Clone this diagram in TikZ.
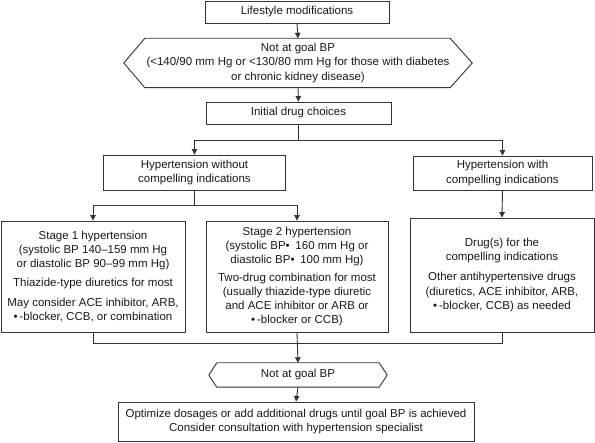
\documentclass[tikz,border=0pt]{standalone}
\usepackage{fontspec}
\setmainfont{Liberation Sans}
\usetikzlibrary{arrows.meta}
\definecolor{linec}{gray}{0.2}
\newcommand{\fsz}{\fontsize{11.5}{14.1}\selectfont}
\begin{document}
\begin{tikzpicture}[x=1pt,y=-1pt]
\tikzset{
  boxst/.style={draw=linec, line width=0.9pt, rectangle, align=center, inner sep=0pt, font=\fsz, text=black!90},
  hexst/.style={rectangle, align=center, inner sep=0pt, font=\fsz, text=black!90},
  conn/.style={draw=linec, line width=0.9pt},
  arr/.style={conn, -{Triangle[length=5.5pt,width=5.5pt]}},
  hexline/.style={draw=linec, line width=0.9pt, line join=miter},
}
\useasboundingbox (0,0) rectangle (595,443);

\node[boxst, minimum width=184pt, minimum height=22pt] (life) at (297,12) {Lifestyle modifications};

\node[hexst, minimum width=348pt, minimum height=49pt] (hex1) at (298,63)
  {Not at goal BP\\(<140/90 mm Hg or <130/80 mm Hg for those with diabetes\\or chronic kidney disease)};
\draw[hexline] (hex1.west) -- ([xshift=21pt]hex1.north west) -- ([xshift=-22pt]hex1.north east)
  -- (hex1.east) -- ([xshift=-22pt]hex1.south east) -- ([xshift=21pt]hex1.south west) -- cycle;

\node[boxst, minimum width=185pt, minimum height=22pt] (init) at (298.5,113) {Initial drug choices};

\node[boxst, minimum width=182pt, minimum height=35pt] (hypw) at (194.5,172.5)
  {Hypertension without\\compelling indications};
\node[boxst, minimum width=179pt, minimum height=34pt] (hypc) at (502.5,173)
  {Hypertension with\\compelling indications};

\node[boxst, minimum width=184pt, minimum height=111pt] (s1) at (93,276.5)
  {Stage 1 hypertension\\(systolic BP 140–159 mm Hg\\or diastolic BP 90–99 mm Hg)\\[5pt]
   Thiazide-type diuretics for most\\[5pt]
   May consider ACE inhibitor, ARB,\\•\,-blocker, CCB, or combination};
\node[boxst, minimum width=182pt, minimum height=111pt] (s2) at (297,276.5)
  {Stage 2 hypertension\\(systolic BP•\enspace 160 mm Hg or\\diastolic BP•\enspace 100 mm Hg)\\[4pt]
   Two-drug combination for most\\(usually thiazide-type diuretic\\and ACE inhibitor or ARB or\\•\,-blocker or CCB)};
\node[boxst, minimum width=184pt, minimum height=114pt] (drug) at (502,275)
  {Drug(s) for the\\compelling indications\\[6pt]
   Other antihypertensive drugs\\(diuretics, ACE inhibitor, ARB,\\•\,-blocker, CCB) as needed};

\node[hexst, minimum width=178pt, minimum height=24pt] (hex2) at (298,375) {Not at goal BP};
\draw[hexline] (hex2.west) -- ([xshift=8pt]hex2.north west) -- ([xshift=-8pt]hex2.north east)
  -- (hex2.east) -- ([xshift=-8pt]hex2.south east) -- ([xshift=8pt]hex2.south west) -- cycle;

\node[boxst, minimum width=356pt, minimum height=39pt] (final) at (296,421.5)
  {Optimize dosages or add additional drugs until goal BP is achieved\\Consider consultation with hypertension specialist};

% connectors
\draw[arr] (life.south) -- (hex1.north);
\draw[arr] (hex1.south) -- (init.north);

\coordinate (j1) at (init.south |- 0,140);
\draw[conn] (init.south) -- (j1);
\draw[arr] (j1) -| (hypw.north);
\draw[arr] (j1) -| (hypc.north);

\coordinate (j2) at (hypw.south |- 0,205);
\draw[conn] (hypw.south) -- (j2);
\draw[arr] (j2) -| (s1.north);
\draw[arr] (j2) -| (s2.north);

\draw[arr] (hypc.south) -- (drug.north);

\coordinate (j3) at (s2.south |- 0,343);
\draw[conn] (s1.south) |- (j3);
\draw[conn] (drug.south) |- (j3);
\draw[arr] (s2.south) -- (hex2.north);
\draw[arr] (hex2.south) -- (final.north);
\end{tikzpicture}
\end{document}
